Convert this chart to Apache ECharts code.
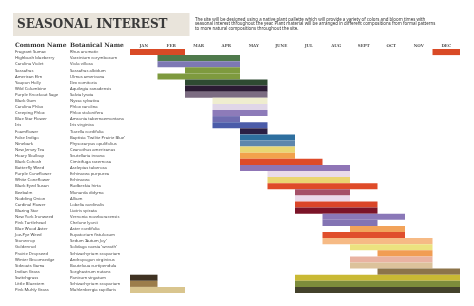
<!DOCTYPE html>
<html>
<head>
<meta charset="utf-8">
<script src="https://cdn.jsdelivr.net/npm/echarts@6/dist/echarts.min.js"></script>
<style>
  html, body { margin: 0; padding: 0; background: #fff; }
  #chart { width: 474px; height: 306px; }
</style>
</head>
<body>
<div id="chart"></div>
<script>
  // plant list
  var commonNames = ['Fragrant Sumac', 'Highbush blueberry', 'Carolina Violet', 'Sassafras', 'American Elm',
    'Yaupon Holly', 'Wild Columbine', 'Purple Knockout Sage', 'Black Gum', 'Carolina Phlox',
    'Creeping Phlox', 'Blue Star Flower', 'Iris', 'Foamflower', 'False Indigo',
    'Ninebark', 'New Jersey Tea', 'Hoary Skullcap', 'Black Cohosh', 'Butterfly Weed',
    'Purple Coneflower', 'White Coneflower', 'Black Eyed Susan', 'Beebalm', 'Nodding Onion',
    'Cardinal Flower', 'Blazing Star', 'New York Ironweed', 'Pink Turtlehead', 'Blue Wood Aster',
    'Joe-Pye Weed', 'Stonecrop', 'Goldenrod', 'Prairie Dropseed', 'Winter Broomsedge',
    'Sideoats Gama', 'Indian Grass', 'Switchgrass', 'Little Bluestem', 'Pink Muhly Grass'];
  var botanicalNames = ['Rhus aromatic', 'Vaccinium corymbosum', 'Viola villosa', 'Sassafras albidum', 'Ulmus americana',
    'Ilex vomitoria', 'Aquilegia canadensis', 'Salvia lyrata', 'Nyssa sylvatica', 'Phlox carolina',
    'Phlox stolonifera', 'Amsonia tabernaemontana', 'Iris virginica', 'Tiarella cordifolia', "Baptisia 'Twilite Prairie Blue'",
    'Physocarpus opulifolius', 'Ceanothus americanus', 'Scutellaria incana', 'Cimicifuga racemosa', 'Asclepias tuberosa',
    'Echinacea purpurea', 'Echinacea', 'Rudbeckia hirta', 'Monarda didyma', 'Allium',
    'Lobelia cardinalis', 'Liatris spicata', 'Vernonia noveboracensis', 'Chelone lyonii', 'Aster cordifolia',
    'Eupatorium fistulosum', "Sedum 'Autum Joy'", "Solidago caesia 'wreath'", 'Schizachyrium scoparium', 'Andropogon virginicus',
    'Bouteloua curtipendula', 'Sorghastrum nutans', 'Panicum virgatum', 'Schizachyrium scoparium', 'Muhlenbergia capillaris'];
  var months = ['JAN', 'FEB', 'MAR', 'APR', 'MAY', 'JUNE', 'JUL', 'AUG', 'SEPT', 'OCT', 'NOV', 'DEC'];

  // main season of interest, in months from start of year
  var seasonFrom = [0, 1, 1, 2, 1, 2, 2, 2, 3, 3, 3, 3, 3, 4, 4, 4, 4, 4, 4, 4,
    5, 5, 5, 6, 6, 6, 6, 7, 7, 8, 7, 7, 8, 9, 8, 8, 9, 6, 6, 6];
  var seasonTo = [2, 4, 4, 4, 4, 5, 5, 5, 5, 5, 5, 4, 5, 5, 6, 6, 6, 6, 7, 8,
    8, 8, 9, 8, 8, 9, 9, 10, 9, 10, 10, 11, 11, 11, 11, 11, 12, 12, 12, 12];
  // second stretch (sumac in dec, grasses in winter)
  var extraRow = [0, 37, 38, 39];
  var extraFrom = [11, 0, 0, 0];
  var extraTo = [12, 1, 1, 2];

  var seasonColors = ['#d94a26', '#4f7a4c', '#7d78b4', '#7e9a3e', '#7e9a3e',
    '#2f4a32', '#2b1a33', '#7c6c82', '#efedcf', '#e0d6e8',
    '#8d7bb9', '#6f6cb0', '#4b5ca9', '#2a1f45', '#2e6f9f',
    '#5e86ac', '#e9d673', '#f2a24c', '#de4b2b', '#8f75b6',
    '#eadbea', '#ead572', '#df4b29', '#a55068', '#ead9ea',
    '#da4629', '#7b1428', '#8a78b8', '#8374b4', '#f2a35a',
    '#e04e2c', '#f6ba85', '#ece27f', '#f19d54', '#e9b3a2',
    '#dcc29b', '#8c744a', '#c9b934', '#7d8c3b', '#43412b'];
  var extraColors = ['#d94a26', '#3f3222', '#9c7d4a', '#d9c58e'];

  var seasonData = seasonFrom.map(function (f, i) { return [i, f, seasonTo[i]]; });
  var extraData = extraRow.map(function (r, i) { return [r, extraFrom[i], extraTo[i]]; });

  function makeRender(colors) {
    return function (params, api) {
      var row = api.value(0);
      var p0 = api.coord([api.value(1), row]);
      var p1 = api.coord([api.value(2), row]);
      var h = api.size([0, 1])[1];
      return {
        type: 'rect',
        shape: { x: p0[0], y: p0[1] - h / 2, width: p1[0] - p0[0], height: h },
        style: { fill: colors[params.dataIndex] }
      };
    };
  }

  var myChart = echarts.init(document.getElementById('chart'));
  var option = {
    backgroundColor: '#fff',
    animation: false,
    title: [
      {
        text: 'SEASONAL INTEREST',
        left: 13, top: 13,
        padding: [5, 22, 5, 4],
        backgroundColor: '#e9e4db',
        textStyle: { fontFamily: 'DejaVu Serif', fontWeight: 'bold', fontSize: 12, color: '#3a3a3a', lineHeight: 13 }
      },
      {
        text: 'The site will be designed using a native plant pallette which will provide a variety of colors and bloom times with\n' +
          'seasonal interest throughout the year. Plant material will be arranged in different compositions from formal patterns\n' +
          'to more natural compositions throughout the site.',
        left: 195, top: 17, padding: 0,
        textStyle: { fontFamily: 'Noto Sans', fontWeight: 'normal', fontSize: 4.4, color: '#333', lineHeight: 4.6 }
      }
    ],
    graphic: [
      { type: 'text', left: 15, top: 42, style: { text: 'Common Name', font: 'bold 6px "DejaVu Serif"', fill: '#333' } },
      { type: 'text', left: 70, top: 42, style: { text: 'Botanical Name', font: 'bold 6px "DejaVu Serif"', fill: '#333' } }
    ],
    grid: { left: 130, right: 14, top: 49, bottom: 13 },
    xAxis: [
      { type: 'value', min: 0, max: 12, interval: 1, show: false },
      {
        type: 'category', data: months, position: 'top', boundaryGap: true,
        axisLine: { show: false }, axisTick: { show: false }, splitLine: { show: false },
        axisLabel: { margin: 1, fontFamily: 'DejaVu Serif', fontWeight: 'bold', fontSize: 4, color: '#555' }
      }
    ],
    yAxis: {
      type: 'category', data: commonNames, inverse: true,
      axisLine: { show: false }, axisTick: { show: false }, splitLine: { show: false },
      axisLabel: {
        interval: 0, align: 'left', margin: 115,
        formatter: function (value, idx) { return '{c|' + value + '}{b|' + botanicalNames[idx] + '}'; },
        rich: {
          c: { width: 55, fontFamily: 'Noto Sans', fontSize: 4.2, color: '#444' },
          b: { fontFamily: 'Noto Sans', fontSize: 4.2, color: '#444' }
        }
      }
    },
    series: [
      { type: 'custom', name: 'season', renderItem: makeRender(seasonColors), encode: { x: [1, 2], y: 0 }, data: seasonData },
      { type: 'custom', name: 'extra', renderItem: makeRender(extraColors), encode: { x: [1, 2], y: 0 }, data: extraData }
    ]
  };
  myChart.setOption(option);
</script>
</body>
</html>
